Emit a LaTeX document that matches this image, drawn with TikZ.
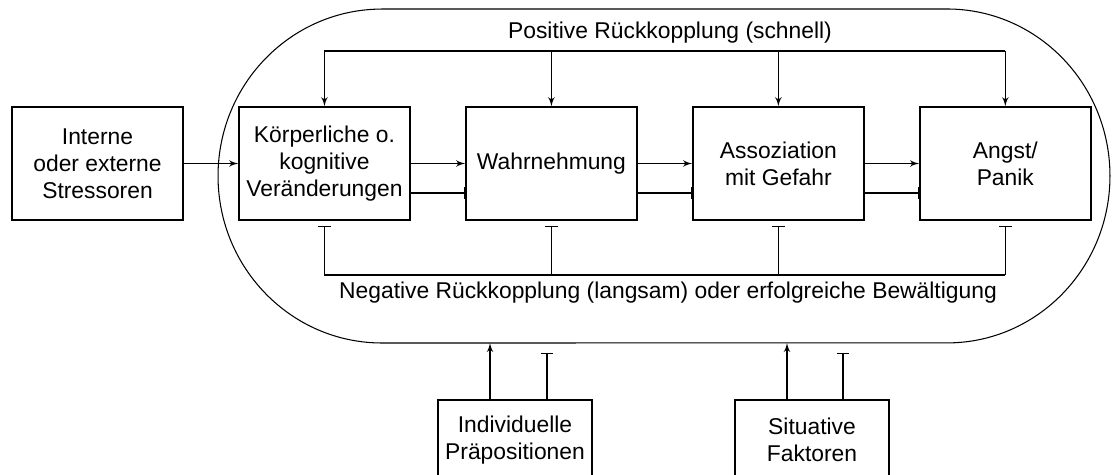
\documentclass[tikz,border=0pt]{standalone}
\usepackage{fontspec}
\setmainfont{Liberation Sans}
\usepackage{tikz}
\usetikzlibrary{arrows}

\begin{document}
\begin{tikzpicture}[x=0.02cm,y=-0.02cm,node distance=4.54cm,line width=0.8pt,
  every node/.style={font=\fontsize{13}{15.4}\selectfont},
  block/.style={draw,align=center,minimum width=3.42cm,minimum height=2.26cm,inner sep=0pt},
  input/.style={draw,align=center,minimum width=3.08cm,minimum height=1.6cm,inner sep=0pt}]
\useasboundingbox (0,0) rectangle (1112,475);
\clip (0,0) rectangle (1112,475);

% outer loop
\draw[line width=0.6pt] (382,9) -- (947,9)
  arc[start angle=90,end angle=-90,x radius=3.26cm,y radius=3.34cm] -- (382,343)
  arc[start angle=270,end angle=90,x radius=3.28cm,y radius=3.34cm] -- cycle;

\node[block] (I) at (97.5,163.5) {Interne\\oder externe\\Stressoren};
\node[block] (K) [right of = I] {Körperliche o.\\kognitive\\Veränderungen};
\node[block] (W) [right of = K] {Wahrnehmung};
\node[block] (G) [right of = W] {Assoziation\\mit Gefahr};
\node[block] (A) [right of = G] {Angst/\\Panik};
\node[input] (P) at (515,440) {Individuelle\\Präpositionen};
\node[input] (S) at (812,440) {Situative\\Faktoren};

\node (pos) at (670,33) {Positive Rückkopplung (schnell)};
\node (neg) at (668,293) {Negative Rückkopplung (langsam) oder erfolgreiche Bewältigung};

\coordinate (pt) at (0,51);
\coordinate (nt) at (0,275);
\coordinate (ob) at (0,343);
\coordinate (bt) at (0,353);

% positive feedback
\draw (K.north |- pt) -- (A.north |- pt);
\path (K.north |- pt) edge [-latex'] (K.north);
\path (W.north |- pt) edge [-latex'] (W.north);
\path (G.north |- pt) edge [-latex'] (G.north);
\path (A.north |- pt) edge [-latex'] (A.north);

% negative feedback
\draw (K.south |- nt) -- (A.south |- nt);
\path (K.south |- nt) edge [-|,shorten >=0.1cm] (K.south);
\path (W.south |- nt) edge [-|,shorten >=0.1cm] (W.south);
\path (G.south |- nt) edge [-|,shorten >=0.1cm] (G.south);
\path (A.south |- nt) edge [-|,shorten >=0.1cm] (A.south);

% chain
\path (I) edge [-latex'] (K);
\path (K) edge [-latex'] (W);
\path (W) edge [-latex'] (G);
\path (G) edge [-latex'] (A);
\path ([yshift=-0.59cm]K.east) edge [-|] ([yshift=-0.59cm]W.west);
\path ([yshift=-0.59cm]W.east) edge [-|] ([yshift=-0.59cm]G.west);
\path ([yshift=-0.59cm]G.east) edge [-|] ([yshift=-0.59cm]A.west);

% inputs from below
\coordinate (p1) at ([xshift=-0.5cm]P.north);
\coordinate (p2) at ([xshift=0.64cm]P.north);
\coordinate (s1) at ([xshift=-0.5cm]S.north);
\coordinate (s2) at ([xshift=0.62cm]S.north);
\path (p1) edge [-latex'] (p1 |- ob);
\path (p2) edge [-|] (p2 |- bt);
\path (s1) edge [-latex'] (s1 |- ob);
\path (s2) edge [-|] (s2 |- bt);

\end{tikzpicture}
\end{document}
